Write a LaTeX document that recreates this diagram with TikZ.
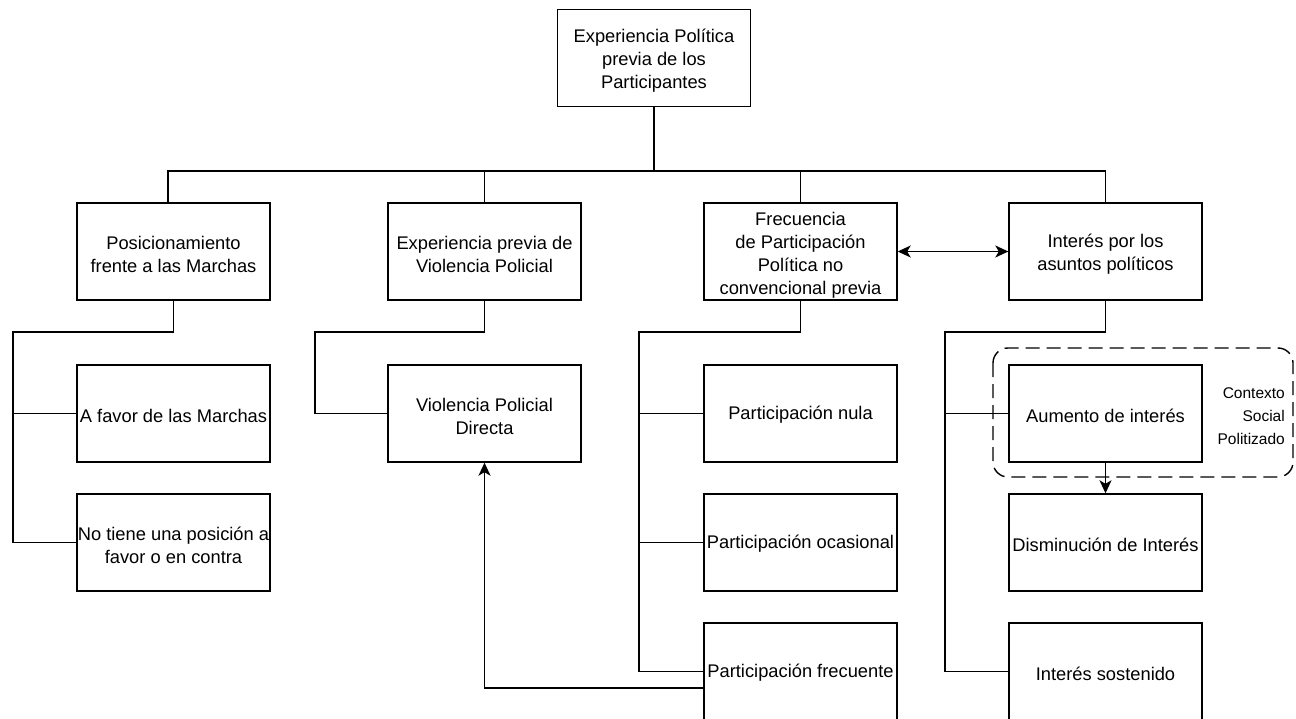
\documentclass[tikz,border=0pt]{standalone}
\usepackage{fontspec}
\setmainfont{Liberation Sans}
\usetikzlibrary{arrows.meta}
\begin{document}
\begin{tikzpicture}[x=1pt,y=-1pt,
  box/.style={draw, line width=1.4pt, minimum width=193pt, minimum height=97pt, inner sep=0pt},
  txt/.style={inner sep=0pt, align=center, font=\fontsize{18.3}{23}\selectfont},
  conn/.style={line width=1.4pt},
  arr/.style={line width=1.4pt, -{Stealth[length=13pt,width=12pt,inset=3.5pt]}},
  darr/.style={line width=1.4pt, {Stealth[length=13pt,width=12pt,inset=3.5pt]}-{Stealth[length=13pt,width=12pt,inset=3.5pt]}},
  small/.style={inner sep=0pt, align=right, font=\fontsize{15.5}{23}\selectfont}]
\useasboundingbox (0,0) rectangle (1296,719);
\begin{scope}
\clip (0,0) rectangle (1296,719);
% boxes
\node[box] (top) at (654,58) {};
\node[box] (b1) at (173.5,251.5) {};
\node[box] (b2) at (484.5,251.5) {};
\node[box] (b3) at (800.5,251.5) {};
\node[box] (b4) at (1105.5,251.5) {};
\node[box] (a1) at (173.5,413.5) {};
\node[box] (a2) at (173.5,542.5) {};
\node[box] (v) at (484.5,413.5) {};
\node[box] (c1) at (800.5,413.5) {};
\node[box] (c2) at (800.5,542.5) {};
\node[box] (c3) at (800.5,671.5) {};
\node[box] (d1) at (1105.5,413.5) {};
\node[box] (d2) at (1105.5,542.5) {};
\node[box] (d3) at (1105.5,671.5) {};
% texts
\node[txt] (ttop) at ([yshift=-3pt]top.center) {Experiencia Política\\previa de los\\Participantes};
\node[txt] (tb1) at ([yshift=-3pt]b1.center) {Posicionamiento\\frente a las Marchas};
\node[txt] (tb2) at ([yshift=-3pt]b2.center) {Experiencia previa de\\Violencia Policial};
\node[txt] (tb3) at ([yshift=-4pt]b3.center) {Frecuencia\\de Participación\\Política no\\convencional previa};
\node[txt] (tb4) at ([yshift=-3pt]b4.center) {Interés por los\\asuntos políticos};
\node[txt] (ta1) at ([yshift=-2pt]a1.center) {A favor de las Marchas};
\node[txt] (ta2) at ([yshift=-3pt]a2.center) {No tiene una posición a\\favor o en contra};
\node[txt] (tv) at ([yshift=-3pt]v.center) {Violencia Policial\\Directa};
\node[txt] (tc1) at ([yshift=-1pt]c1.center) {Participación nula};
\node[txt] (tc2) at ([yshift=-1pt]c2.center) {Participación ocasional};
\node[txt] (tc3) at ([yshift=-1pt]c3.center) {Participación frecuente};
\node[txt] (td1) at ([yshift=-2pt]d1.center) {Aumento de interés};
\node[txt] (td2) at ([yshift=-2pt]d2.center) {Disminución de Interés};
\node[txt] (td3) at ([yshift=-2pt]d3.center) {Interés sostenido};
% dashed group
\draw[line width=1.4pt, dash pattern=on 14pt off 7pt, rounded corners=15pt] (993,348) rectangle (1293,477);
\node[small, anchor=east] (ctx) at (1285,416) {Contexto\\Social\\Politizado};
% coordinates
\coordinate (bus) at (654,171);
\coordinate (b1top) at (168,203);
\coordinate (L1) at (13,332);
\coordinate (L2) at (315,332);
\coordinate (L3) at (639,332);
\coordinate (L4) at (945,332);
% top bus
\draw[conn] (top.south) -- (bus);
\draw[conn] (b1top) -- (b1top |- bus) -- (b4.north |- bus) -- (b4.north);
\draw[conn] (b2.north |- bus) -- (b2.north);
\draw[conn] (b3.north |- bus) -- (b3.north);
% branch b1
\draw[conn] (b1.south) |- (L1) -- (L1 |- a2.west) -- (a2.west);
\draw[conn] (L1 |- a1.west) -- (a1.west);
% branch b2
\draw[conn] (b2.south) |- (L2) -- (L2 |- v.west) -- (v.west);
% branch b3
\draw[conn] (b3.south) |- (L3) -- (L3 |- c3.west) -- (c3.west);
\draw[conn] (L3 |- c1.west) -- (c1.west);
\draw[conn] (L3 |- c2.west) -- (c2.west);
% branch b4
\draw[conn] (b4.south) |- (L4) -- (L4 |- d3.west) -- (d3.west);
\draw[conn] (L4 |- d1.west) -- (d1.west);
% arrows
\draw[arr] (d1.south) -- (d2.north);
\draw[darr] (b3.east) -- (b4.west);
\draw[arr] ([yshift=-16.5pt]c3.west) -| (v.south);
\end{scope}
\end{tikzpicture}
\end{document}
